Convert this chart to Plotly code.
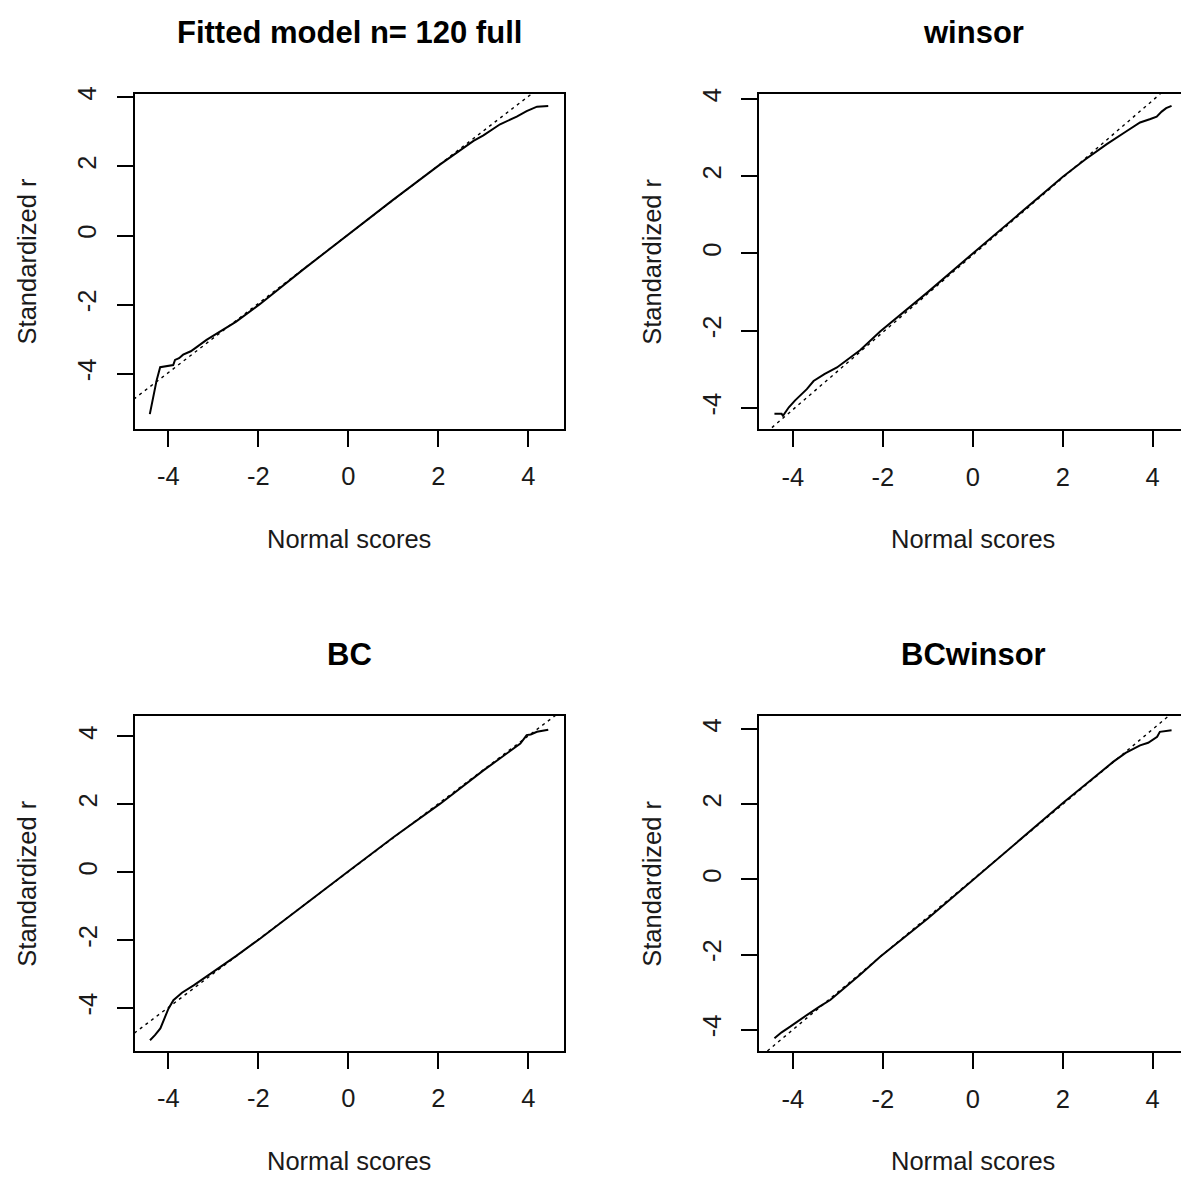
import plotly.graph_objects as go

W, H = 1181, 1177
# measured vertical mapping of the capture: page_y = 7 + fig_y * 1170/1177
Y_OFF, Y_SPAN = 7.0, 1170.0

# ---------------- data ----------------
titles = ["Fitted model n= 120 full", "winsor", "BC", "BCwinsor"]
tick_vals = [-4, -2, 0, 2, 4]
tick_text = ["-4", "-2", "0", "2", "4"]

# panel 1: full
x_full = [-4.41, -4.36, -4.30, -4.26, -4.18, -4.00, -3.89, -3.85, -3.76, -3.67, -3.50, -3.37, -3.15,
          -2.5, -1.96, -1.0, 0.0, 1.0, 2.04, 2.5, 2.78, 3.0, 3.37, 3.74, 3.96, 4.19, 4.44]
y_full = [-5.17, -4.83, -4.49, -4.20, -3.81, -3.77, -3.75, -3.60, -3.55, -3.45, -3.35, -3.23, -3.02,
          -2.50, -1.98, -0.98, 0.03, 1.04, 2.06, 2.48, 2.74, 2.90, 3.22, 3.44, 3.60, 3.73, 3.75]

# panel 2: winsor
x_win = [-4.41, -4.25, -4.22, -4.09, -3.95, -3.80, -3.69, -3.54, -3.30, -3.02, -2.5, -2.06, -1.0, 0.0,
         1.0, 2.01, 2.5, 2.98, 3.4, 3.72, 3.95, 4.09, 4.2, 4.3, 4.42]
y_win = [-4.15, -4.15, -4.20, -3.98, -3.80, -3.62, -3.51, -3.30, -3.12, -2.95, -2.50, -2.02, -1.0, 0.0,
         1.0, 1.99, 2.43, 2.83, 3.15, 3.39, 3.48, 3.54, 3.67, 3.76, 3.82]

# panel 3: BC
x_bc = [-4.41, -4.30, -4.18, -4.07, -4.00, -3.89, -3.70, -3.44, -3.0, -2.5, -1.96, -1.0, 0.0, 1.0,
        2.04, 3.0, 3.5, 3.82, 3.96, 4.05, 4.19, 4.3, 4.44]
y_bc = [-4.95, -4.80, -4.60, -4.26, -4.02, -3.77, -3.55, -3.33, -2.93, -2.47, -1.95, -0.97, 0.03, 1.03,
        2.02, 3.0, 3.47, 3.79, 4.04, 4.06, 4.14, 4.17, 4.20]

# panel 4: BCwinsor
x_bcw = [-4.41, -4.25, -4.06, -3.85, -3.69, -3.40, -3.17, -2.5, -2.06, -1.0, 0.0, 1.0, 2.01, 2.5,
         3.12, 3.4, 3.72, 3.9, 4.01, 4.10, 4.16, 4.3, 4.42]
y_bcw = [-4.23, -4.07, -3.92, -3.74, -3.61, -3.38, -3.21, -2.53, -2.06, -1.04, -0.01, 1.02, 2.04, 2.52,
         3.13, 3.37, 3.57, 3.64, 3.72, 3.80, 3.93, 3.96, 3.97]

# reference (qq) lines: intercept, slope
ref_intercept = [0.03, -0.04, 0.02, 0.0]
ref_slope = [1.0, 1.0, 1.0, 1.0]

curves = [(x_full, y_full), (x_win, y_win), (x_bc, y_bc), (x_bcw, y_bcw)]

# axis ranges
x_ranges = [[-4.75, 4.79], [-4.76, 4.63], [-4.75, 4.79], [-4.76, 4.63]]
y_ranges = [[-5.59, 4.09], [-4.54, 4.12], [-5.26, 4.60], [-4.57, 4.35]]

# ---------------- layout geometry (target pixels) ----------------
# (left, right, top, bottom)
boxes = [(134.5, 564.0, 93.3, 428.0),
         (758.7, 1181.0, 93.3, 428.3),
         (134.7, 564.0, 715.7, 1050.7),
         (758.7, 1181.0, 715.7, 1051.0)]
full_w = 429.5

def fx(p):
    return p / W

def fy(p):
    return 1 - (p - Y_OFF) / Y_SPAN

FONT = "Liberation Sans, Arial, sans-serif"
TXT = "#1a1a1a"

fig = go.Figure()
layout = dict(width=W, height=H, margin=dict(l=0, r=0, t=0, b=0),
              paper_bgcolor="white", plot_bgcolor="white", showlegend=False,
              font=dict(family=FONT, size=25, color="black"))
annotations = []

for i in range(4):
    sfx = "" if i == 0 else str(i + 1)
    xa, ya = "x" + sfx, "y" + sfx
    l, r, t, b = boxes[i]
    right_col = i in (1, 3)
    layout["xaxis" + sfx] = dict(
        domain=[fx(l), min(1.0, fx(r))], range=x_ranges[i], anchor=ya,
        showline=True, linecolor="black", linewidth=2, mirror=True,
        ticks="outside", ticklen=16, tickwidth=2, tickcolor="black",
        tickvals=tick_vals, ticktext=tick_text, showgrid=False, zeroline=False,
        tickfont=dict(family=FONT, size=25.5, color=TXT), ticklabelstandoff=8)
    layout["yaxis" + sfx] = dict(
        domain=[fy(b), fy(t)], range=y_ranges[i], anchor=xa,
        showline=True, linecolor="black", linewidth=2, mirror=(not right_col),
        ticks="outside", ticklen=16, tickwidth=2, tickcolor="black",
        tickvals=tick_vals, ticktext=tick_text, showgrid=False, zeroline=False,
        tickangle=-90, tickfont=dict(family=FONT, size=25.5, color=TXT), ticklabelstandoff=10)

    xs, ys = curves[i]
    fig.add_trace(go.Scatter(x=xs, y=ys, mode="lines", xaxis=xa, yaxis=ya,
                             line=dict(color="black", width=2), hoverinfo="skip"))
    lx = [-6, 6]
    ly = [ref_intercept[i] + ref_slope[i] * v for v in lx]
    fig.add_trace(go.Scatter(x=lx, y=ly, mode="lines", xaxis=xa, yaxis=ya,
                             line=dict(color="black", width=1.4, dash="3px,4px"), hoverinfo="skip"))

    cx = l + full_w / 2
    annotations.append(dict(text="<b>" + titles[i] + "</b>", x=fx(cx), y=fy(t - 62),
                            xref="paper", yref="paper", showarrow=False, xanchor="center",
                            yanchor="middle", font=dict(family=FONT, size=31, color="black")))
    annotations.append(dict(text="Normal scores", x=fx(cx), y=fy(b + 110),
                            xref="paper", yref="paper", showarrow=False, xanchor="center",
                            yanchor="middle", font=dict(family=FONT, size=25.5, color=TXT)))
    annotations.append(dict(text="Standardized r", x=fx(l - 107.5), y=fy((t + b) / 2),
                            xref="paper", yref="paper", showarrow=False, xanchor="center",
                            yanchor="middle", textangle=-90,
                            font=dict(family=FONT, size=25.5, color=TXT)))

layout["annotations"] = annotations
fig.update_layout(**layout)

# pin the figure to the window's top-left corner (no body margin / stray offsets)
page_js = ("document.documentElement.style.margin='0';document.body.style.margin='0';"
           "document.body.style.overflow='hidden';document.documentElement.style.overflow='hidden';"
           "var gd=document.getElementById('{plot_id}');"
           "gd.style.position='fixed';gd.style.top='0px';gd.style.left='0px';")
fig.write_html("out.html", post_script=page_js, config={"displayModeBar": False})
